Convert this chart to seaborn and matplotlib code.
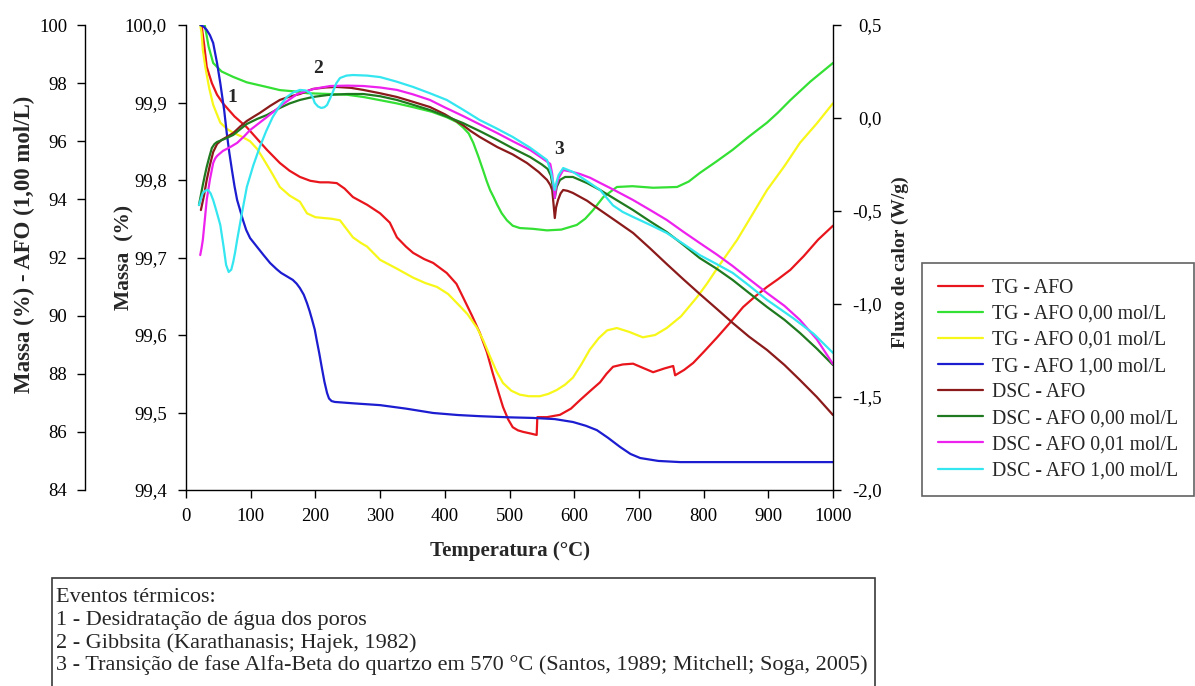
import matplotlib
matplotlib.use("Agg")
import matplotlib.pyplot as plt
from matplotlib.ticker import FuncFormatter
from matplotlib.lines import Line2D
from matplotlib.patches import Rectangle
import seaborn as sns

# ---------------- data ----------------
# TG - AFO (mass %, inner left axis)
tg_afo_t = [24, 28, 32, 40, 48, 57, 75, 94, 110, 125, 145, 160, 176, 192, 207, 220, 233, 245,
            258, 280, 300, 315, 326, 340, 351, 368, 382, 403, 418, 428, 442, 454, 465, 474,
            483, 490, 498, 505, 513, 521, 532, 542, 543, 558, 578, 595, 609, 625, 640, 650,
            660, 675, 691, 705, 722, 740, 753, 756, 770, 784, 800, 821, 840, 861, 880, 898,
            915, 934, 955, 977, 1000]
tg_afo_m = [100.0, 99.975, 99.946, 99.925, 99.910, 99.899, 99.882, 99.868, 99.853, 99.839,
            99.822, 99.812, 99.804, 99.799, 99.797, 99.797, 99.796, 99.789, 99.778, 99.768,
            99.757, 99.745, 99.726, 99.714, 99.706, 99.698, 99.693, 99.680, 99.666, 99.649,
            99.625, 99.603, 99.578, 99.551, 99.526, 99.507, 99.491, 99.481, 99.477, 99.475,
            99.473, 99.471, 99.494, 99.494, 99.497, 99.505, 99.516, 99.528, 99.539, 99.550,
            99.559, 99.562, 99.563, 99.558, 99.552, 99.557, 99.560, 99.548, 99.555, 99.564,
            99.578, 99.597, 99.615, 99.636, 99.650, 99.662, 99.672, 99.684, 99.702, 99.723,
            99.741]

# TG - AFO 0,00 mol/L
tg_000_t = [29, 35, 42, 55, 73, 94, 125, 145, 172, 187, 220, 249, 275, 300, 325, 351, 380,
            403, 418, 428, 437, 444, 452, 459, 465, 470, 476, 481, 488, 496, 505, 516, 536,
            558, 580, 604, 617, 629, 645, 666, 690, 722, 759, 777, 794, 820, 845, 870, 898,
            915, 934, 965, 1000]
tg_000_m = [100.0, 99.972, 99.951, 99.940, 99.933, 99.926, 99.920, 99.916, 99.914, 99.912,
            99.911, 99.910, 99.907, 99.903, 99.899, 99.894, 99.888, 99.881, 99.875, 99.868,
            99.860, 99.848, 99.830, 99.813, 99.798, 99.787, 99.777, 99.768, 99.757, 99.748,
            99.741, 99.738, 99.737, 99.735, 99.736, 99.742, 99.750, 99.761, 99.778, 99.791,
            99.792, 99.790, 99.791, 99.798, 99.809, 99.824, 99.839, 99.856, 99.874, 99.887,
            99.903, 99.927, 99.951]

# TG - AFO 0,01 mol/L
tg_001_t = [22, 24, 26, 30, 36, 42, 53, 63, 73, 86, 99, 110, 119, 132, 145, 160, 176, 187,
            200, 212, 225, 238, 248, 258, 270, 280, 300, 325, 351, 370, 388, 405, 419, 435,
            450, 460, 470, 480, 490, 503, 516, 530, 547, 560, 573, 586, 598, 611, 624, 638,
            651, 666, 685, 706, 725, 743, 765, 790, 805, 821, 852, 875, 898, 925, 949, 975,
            1000]
tg_001_m = [100.0, 99.990, 99.968, 99.945, 99.918, 99.897, 99.874, 99.866, 99.861, 99.856,
            99.850, 99.840, 99.828, 99.810, 99.791, 99.780, 99.772, 99.757, 99.752, 99.751,
            99.750, 99.748, 99.737, 99.726, 99.719, 99.714, 99.697, 99.686, 99.674, 99.667,
            99.662, 99.653, 99.641, 99.627, 99.609, 99.592, 99.572, 99.553, 99.538, 99.528,
            99.523, 99.521, 99.521, 99.524, 99.529, 99.536, 99.545, 99.562, 99.581, 99.596,
            99.606, 99.609, 99.604, 99.597, 99.600, 99.609, 99.624, 99.649, 99.666, 99.686,
            99.723, 99.755, 99.787, 99.818, 99.848, 99.873, 99.899]

# TG - AFO 1,00 mol/L (outer left axis)
tg_100_t = [22, 27, 32, 37, 42, 48, 53, 59, 63, 67, 71, 75, 79, 84, 88, 93, 99, 110, 120,
            130, 140, 147, 156, 165, 171, 176, 182, 187, 191, 195, 199, 202, 206, 210, 214,
            218, 221, 225, 230, 260, 300, 340, 382, 420, 454, 500, 536, 570, 598, 618, 635,
            652, 671, 687, 702, 730, 764, 850, 1000]
tg_100_m = [100.0, 99.95, 99.83, 99.65, 99.38, 98.69, 98.00, 97.07, 96.28, 95.60, 95.01,
            94.45, 93.98, 93.60, 93.29, 92.95, 92.67, 92.36, 92.08, 91.81, 91.60, 91.47, 91.35,
            91.23, 91.10, 90.95, 90.72, 90.43, 90.16, 89.85, 89.52, 89.16, 88.70, 88.20, 87.72,
            87.34, 87.15, 87.06, 87.03, 86.98, 86.92, 86.80, 86.65, 86.58, 86.54, 86.50, 86.48,
            86.44, 86.34, 86.21, 86.06, 85.80, 85.48, 85.24, 85.10, 85.00, 84.96, 84.96, 84.96]

# DSC - AFO (heat flow W/g, right axis)
dsc_afo_t = [23, 28, 32, 37, 42, 48, 55, 63, 73, 84, 94, 105, 114, 130, 145, 160, 176, 196,
             215, 233, 255, 274, 300, 326, 350, 377, 400, 428, 440, 454, 467, 481, 505, 527,
             545, 558, 563, 566, 568, 570, 572, 575, 579, 583, 590, 598, 620, 640, 665, 691,
             717, 743, 768, 794, 820, 845, 870, 898, 925, 949, 975, 1000]
dsc_afo_q = [-0.495, -0.414, -0.333, -0.253, -0.183, -0.140, -0.118, -0.102, -0.081, -0.045,
             -0.016, 0.008, 0.027, 0.065, 0.097, 0.115, 0.129, 0.156, 0.164, 0.167, 0.162,
             0.151, 0.133, 0.113, 0.088, 0.059, 0.020, -0.038, -0.070, -0.102, -0.128, -0.156,
             -0.196, -0.242, -0.290, -0.333, -0.360, -0.387, -0.460, -0.538, -0.480, -0.441,
             -0.405, -0.387, -0.392, -0.403, -0.445, -0.495, -0.555, -0.618, -0.700, -0.785,
             -0.865, -0.946, -1.025, -1.102, -1.175, -1.247, -1.328, -1.409, -1.500, -1.597]

# DSC - AFO 0,00 mol/L
dsc_000_t = [20, 23, 26, 29, 32, 36, 40, 44, 48, 60, 73, 84, 94, 110, 125, 145, 160, 176,
             196, 220, 249, 274, 300, 326, 350, 377, 400, 428, 455, 481, 505, 532, 550, 559,
             564, 567, 570, 573, 578, 586, 598, 620, 640, 665, 691, 717, 743, 768, 794, 820,
             845, 870, 898, 925, 949, 975, 1000]
dsc_000_q = [-0.468, -0.415, -0.360, -0.310, -0.263, -0.210, -0.161, -0.140, -0.129, -0.112,
             -0.091, -0.060, -0.032, -0.005, 0.016, 0.054, 0.078, 0.097, 0.113, 0.124, 0.129,
             0.129, 0.117, 0.097, 0.072, 0.043, 0.012, -0.027, -0.072, -0.118, -0.163, -0.210,
             -0.250, -0.274, -0.310, -0.370, -0.430, -0.370, -0.333, -0.317, -0.317, -0.350,
             -0.387, -0.440, -0.495, -0.555, -0.613, -0.680, -0.753, -0.810, -0.871, -0.940,
             -1.016, -1.085, -1.156, -1.240, -1.328]

# DSC - AFO 0,01 mol/L
dsc_001_t = [22, 24, 26, 29, 32, 37, 42, 45, 48, 57, 68, 79, 90, 99, 112, 125, 150, 172,
             198, 223, 250, 274, 300, 326, 350, 377, 400, 428, 455, 481, 505, 532, 550, 563,
             566, 568, 570, 572, 576, 583, 595, 609, 625, 640, 665, 691, 717, 743, 768, 794,
             820, 845, 870, 898, 925, 949, 975, 1000]
dsc_001_q = [-0.737, -0.700, -0.656, -0.550, -0.441, -0.330, -0.242, -0.218, -0.204, -0.177,
             -0.157, -0.134, -0.098, -0.065, -0.030, 0.005, 0.075, 0.129, 0.157, 0.172, 0.174,
             0.172, 0.164, 0.151, 0.128, 0.097, 0.057, 0.011, -0.036, -0.081, -0.125, -0.172,
             -0.215, -0.247, -0.300, -0.370, -0.430, -0.370, -0.323, -0.280, -0.288, -0.301,
             -0.322, -0.349, -0.393, -0.441, -0.494, -0.548, -0.610, -0.672, -0.733, -0.796,
             -0.865, -0.941, -1.010, -1.086, -1.190, -1.323]

# DSC - AFO 1,00 mol/L
dsc_100_t = [20, 23, 26, 30, 34, 38, 42, 47, 53, 58, 62, 66, 70, 73, 76, 79, 86, 94, 104,
             114, 124, 134, 145, 156, 166, 176, 185, 192, 196, 199, 204, 209, 214, 218, 222,
             227, 232, 238, 248, 258, 280, 300, 325, 351, 377, 403, 428, 454, 480, 505, 532,
             558, 564, 567, 570, 573, 576, 583, 598, 620, 640, 660, 675, 691, 717, 743, 768,
             794, 820, 845, 870, 898, 938, 970, 1000]
dsc_100_q = [-0.468, -0.435, -0.403, -0.390, -0.387, -0.405, -0.441, -0.500, -0.575, -0.690,
             -0.790, -0.828, -0.815, -0.774, -0.720, -0.656, -0.520, -0.371, -0.255, -0.156,
             -0.070, 0.005, 0.065, 0.113, 0.138, 0.151, 0.148, 0.134, 0.110, 0.081, 0.062,
             0.054, 0.058, 0.070, 0.100, 0.140, 0.185, 0.215, 0.228, 0.231, 0.228, 0.220,
             0.196, 0.167, 0.133, 0.097, 0.045, -0.011, -0.056, -0.102, -0.160, -0.226,
             -0.290, -0.340, -0.387, -0.340, -0.306, -0.269, -0.290, -0.340, -0.387, -0.470,
             -0.505, -0.532, -0.574, -0.618, -0.675, -0.737, -0.785, -0.833, -0.900, -0.978,
             -1.075, -1.160, -1.263]

series_labels = ["TG - AFO", "TG - AFO 0,00 mol/L", "TG - AFO 0,01 mol/L",
                 "TG - AFO 1,00 mol/L", "DSC - AFO", "DSC - AFO 0,00 mol/L",
                 "DSC - AFO 0,01 mol/L", "DSC - AFO 1,00 mol/L"]
series_colors = ["#E8161C", "#33E033", "#F7F71A", "#1C1CD0",
                 "#8B1A1A", "#1F7A1F", "#EE22EE", "#33E6F0"]

x_ticks = list(range(0, 1001, 100))
inner_ticks = [99.4, 99.5, 99.6, 99.7, 99.8, 99.9, 100.0]
outer_ticks = list(range(84, 101, 2))
right_ticks = [-2.0, -1.5, -1.0, -0.5, 0.0, 0.5]

event_lines = ["Eventos térmicos:",
               "1 - Desidratação de água dos poros",
               "2 - Gibbsita (Karathanasis; Hajek, 1982)",
               "3 - Transição de fase Alfa-Beta do quartzo em 570 °C (Santos, 1989; Mitchell; Soga, 2005)"]

# ---------------- style ----------------
sns.set_style("ticks")
plt.rcParams["font.family"] = ["Liberation Serif", "DejaVu Serif"]
plt.rcParams["axes.linewidth"] = 1.0

W, H = 1195, 686
fig = plt.figure(figsize=(W / 100, H / 100), dpi=100)
L, R, T, B = 186, 833, 25, 490
ax = fig.add_axes([L / W, 1 - B / H, (R - L) / W, (B - T) / H])
ax_out = ax.twinx()
ax_r = ax.twinx()

lw = 1.6
sns.lineplot(x=tg_afo_t, y=tg_afo_m, ax=ax, color=series_colors[0], lw=lw, sort=False, estimator=None)
sns.lineplot(x=tg_000_t, y=tg_000_m, ax=ax, color=series_colors[1], lw=lw, sort=False, estimator=None)
sns.lineplot(x=tg_001_t, y=tg_001_m, ax=ax, color=series_colors[2], lw=lw, sort=False, estimator=None)
sns.lineplot(x=tg_100_t, y=tg_100_m, ax=ax_out, color=series_colors[3], lw=lw, sort=False, estimator=None)
sns.lineplot(x=dsc_afo_t, y=dsc_afo_q, ax=ax_r, color=series_colors[4], lw=lw, sort=False, estimator=None)
sns.lineplot(x=dsc_000_t, y=dsc_000_q, ax=ax_r, color=series_colors[5], lw=lw, sort=False, estimator=None)
sns.lineplot(x=dsc_001_t, y=dsc_001_q, ax=ax_r, color=series_colors[6], lw=lw, sort=False, estimator=None)
sns.lineplot(x=dsc_100_t, y=dsc_100_q, ax=ax_r, color=series_colors[7], lw=lw, sort=False, estimator=None)

comma1 = FuncFormatter(lambda v, p: f"{round(v, 1):.1f}".replace(".", ","))
tick_fs = 13.5

# x axis
ax.set_xlim(0, 1000)
ax.set_xticks(x_ticks)
ax.set_xlabel("Temperatura (°C)", fontsize=15, fontweight="bold", labelpad=12)

# inner left axis
ax.set_ylim(99.4, 100.0)
ax.set_yticks(inner_ticks)
ax.yaxis.set_major_formatter(comma1)
ax.set_ylabel("Massa  (%)", fontsize=15.5, fontweight="bold")
ax.yaxis.set_label_coords(-0.079, 0.50)

# outer left axis
ax_out.set_ylim(84, 100)
ax_out.set_yticks(outer_ticks)
ax_out.spines["left"].set_visible(True)
ax_out.spines["left"].set_position(("outward", (L - 85) * 0.72))
ax_out.spines["right"].set_visible(False)
ax_out.yaxis.set_ticks_position("left")
ax_out.yaxis.set_label_position("left")
ax_out.set_ylabel("Massa (%) - AFO (1,00 mol/L)", fontsize=16.5, fontweight="bold")
ax_out.yaxis.set_label_coords(-0.233, 0.528)

# right axis
ax_r.set_ylim(-2.0, 0.5)
ax_r.set_yticks(right_ticks)
ax_r.yaxis.set_major_formatter(comma1)
ax_r.set_ylabel("Fluxo de calor (W/g)", fontsize=14, fontweight="bold")
ax_r.yaxis.set_label_coords(1.090, 0.49)

for a in (ax, ax_out, ax_r):
    a.spines["top"].set_visible(False)
    a.tick_params(direction="out", length=5.8, width=1.0, labelsize=tick_fs, colors="black")
    a.set_facecolor("none")
for s in ("left", "bottom"):
    ax.spines[s].set_color("black")
ax.spines["right"].set_visible(False)
ax_out.spines["left"].set_color("black")
ax_out.spines["bottom"].set_visible(False)
ax_r.spines["right"].set_color("black")
ax_r.spines["left"].set_visible(False)
ax_r.spines["bottom"].set_visible(False)

ax.tick_params(axis="x", pad=7)
ax.tick_params(axis="y", pad=8)
ax_out.tick_params(axis="y", pad=7)
ax_r.tick_params(axis="y", pad=29.5)
plt.setp(ax_r.get_yticklabels(), ha="right")

# thermal event markers
ax.text(71, 99.907, "1", fontsize=14, fontweight="bold", ha="center", va="center")
ax.text(204, 99.944, "2", fontsize=14, fontweight="bold", ha="center", va="center")
ax.text(576, 99.840, "3", fontsize=14, fontweight="bold", ha="center", va="center")

# legend
handles = [Line2D([0], [0], color=c, lw=lw) for c in series_colors]
leg = fig.legend(handles, series_labels, loc="upper left",
                 bbox_to_anchor=(922 / W, 1 - 263 / H), bbox_transform=fig.transFigure,
                 borderaxespad=0, fontsize=14.2, frameon=True, fancybox=False,
                 handlelength=2.3, handletextpad=0.45, labelspacing=0.36, borderpad=0.8)
leg.get_frame().set_edgecolor("#3a3a3a")
leg.get_frame().set_linewidth(1.2)

# thermal events box
fig.patches.append(Rectangle((52 / W, -0.05), (875 - 52) / W, 1.05 - 578 / H,
                             transform=fig.transFigure, fill=False,
                             edgecolor="#3a3a3a", linewidth=1.2))
for i, line in enumerate(event_lines):
    fig.text(56 / W, 1 - (598 + 22.5 * i) / H, line, fontsize=16, ha="left", va="center")

fig.savefig("out.png", dpi=100)
